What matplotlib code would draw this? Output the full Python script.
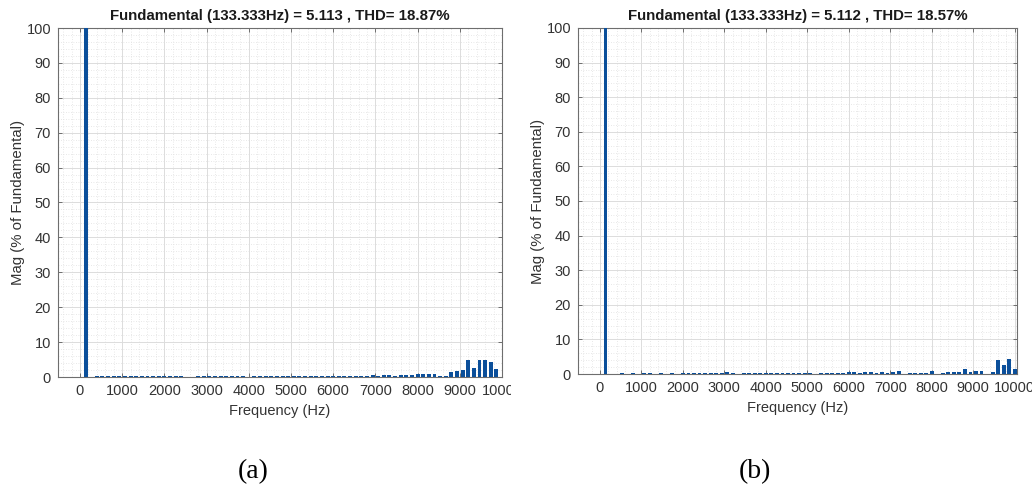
import numpy as np
import matplotlib
matplotlib.use('Agg')
import matplotlib.pyplot as plt
from matplotlib.ticker import MultipleLocator, AutoMinorLocator
from matplotlib.transforms import Bbox, TransformedBbox

plt.rcParams['font.family'] = ['Liberation Sans', 'DejaVu Sans']

# 谐波次数 1..75，基波 133.333 Hz
f0 = 133.333
harmonic = np.arange(1, 76)
freq = harmonic * f0

# (a) 各次谐波幅值（% of Fundamental）
mag_a = [100.0, 0.1, 0.3, 0.2, 0.3, 0.3, 0.4, 0.3, 0.3, 0.3,
         0.3, 0.3, 0.2, 0.3, 0.2, 0.3, 0.2, 0.2, 0.1, 0.1,
         0.2, 0.3, 0.3, 0.4, 0.3, 0.3, 0.3, 0.2, 0.2, 0.1,
         0.2, 0.2, 0.3, 0.2, 0.3, 0.3, 0.2, 0.3, 0.3, 0.4,
         0.3, 0.3, 0.2, 0.3, 0.3, 0.2, 0.3, 0.3, 0.3, 0.3,
         0.4, 0.5, 0.4, 0.6, 0.7, 0.3, 0.5, 0.6, 0.6, 0.9,
         0.9, 0.8, 0.8, 0.4, 0.4, 1.3, 1.6, 2.1, 5.0, 2.5,
         4.8, 4.8, 4.2, 2.2, 0.0]

# (b) 各次谐波幅值（% of Fundamental）
mag_b = [100.0, 0.1, 0.1, 0.2, 0.1, 0.2, 0.1, 0.2, 0.2, 0.1,
         0.2, 0.1, 0.2, 0.1, 0.3, 0.3, 0.4, 0.3, 0.4, 0.3,
         0.4, 0.4, 0.7, 0.2, 0.1, 0.3, 0.3, 0.2, 0.3, 0.2,
         0.3, 0.3, 0.2, 0.3, 0.2, 0.3, 0.3, 0.2, 0.1, 0.3,
         0.4, 0.2, 0.4, 0.3, 0.6, 0.6, 0.2, 0.6, 0.5, 0.2,
         0.5, 0.4, 0.5, 0.8, 0.1, 0.4, 0.4, 0.4, 0.4, 0.9,
         0.1, 0.4, 0.5, 0.6, 0.6, 1.5, 0.7, 0.9, 0.9, 0.1,
         0.5, 4.0, 2.6, 4.3, 1.5]

titles = ['Fundamental (133.333Hz) = 5.113 , THD= 18.87%',
          'Fundamental (133.333Hz) = 5.112 , THD= 18.57%']
panel_labels = ['(a)', '(b)']

BAR_COLOR = '#0b4f9a'
AX_COLOR = '#6e6e6e'
TXT_COLOR = '#333333'

fig = plt.figure(figsize=(10.32, 4.9), dpi=100)

# 轴位置按参考图像素换算
ax_a = fig.add_axes([58 / 1032, 1 - 377 / 490, 444 / 1032, 349 / 490])
ax_b = fig.add_axes([578 / 1032, 1 - 374 / 490, 439 / 1032, 346 / 490])
xlims = [(-520, 10000), (-530, 10055)]

for ax, mag, title, xlim in zip([ax_a, ax_b], [mag_a, mag_b], titles, xlims):
    ax.bar(freq, mag, width=0.7 * f0, color=BAR_COLOR, zorder=3)
    ax.set_xlim(*xlim)
    ax.set_ylim(0, 100)
    ax.xaxis.set_major_locator(MultipleLocator(1000))
    ax.yaxis.set_major_locator(MultipleLocator(10))
    ax.xaxis.set_minor_locator(AutoMinorLocator(5))
    ax.yaxis.set_minor_locator(AutoMinorLocator(5))
    ax.grid(which='major', color='#dcdcdc', lw=0.7, zorder=0)
    ax.grid(which='minor', color='#e0e0e0', lw=0.6, ls=(0, (1, 2)), zorder=0)
    ax.set_axisbelow(True)
    ax.tick_params(which='major', direction='in', length=3, width=0.7,
                   top=True, right=True, color=AX_COLOR,
                   labelsize=10.5, labelcolor=TXT_COLOR, pad=5)
    ax.tick_params(which='minor', length=0)
    for s in ax.spines.values():
        s.set_color(AX_COLOR)
        s.set_linewidth(0.8)
    ax.set_title(title, fontsize=10.8, fontweight='bold', color='#1a1a1a', pad=6)
    ax.set_xlabel('Frequency (Hz)', fontsize=10.5, color=TXT_COLOR)
    ax.set_ylabel('Mag (% of Fundamental)', fontsize=10.8, color=TXT_COLOR)
    ax.xaxis.set_label_coords(0.5, -0.077)
    ax.yaxis.set_label_coords(-0.075, 0.5)

# 左图最右刻度标签在原图中被裁掉一部分
fig.canvas.draw()
clip = TransformedBbox(Bbox([[0, 0], [511 / 1032, 1]]), fig.transFigure)
for lbl in ax_a.get_xticklabels():
    lbl.set_clip_box(clip)
    lbl.set_clip_on(True)

for x, lab in zip([253 / 1032, 755 / 1032], panel_labels):
    fig.text(x, 1 - 472 / 490, lab, ha='center', va='center',
             fontsize=20, family=['Liberation Serif', 'DejaVu Serif'], color='black')

fig.savefig('out.png', dpi=100, facecolor='white')
